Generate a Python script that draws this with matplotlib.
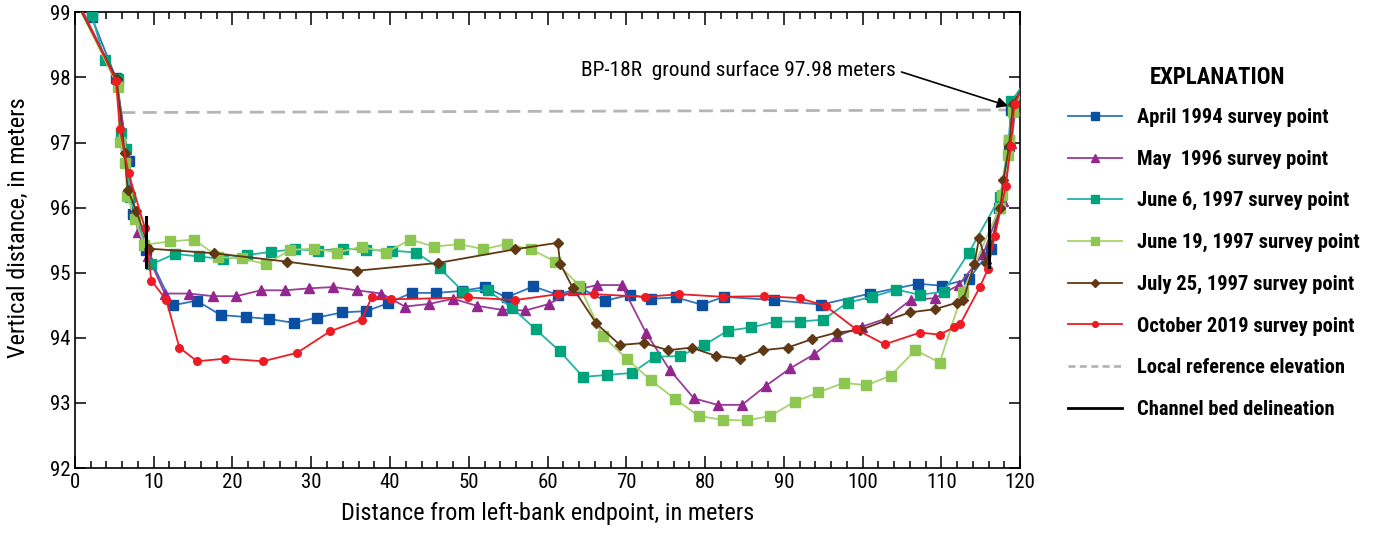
import matplotlib
matplotlib.use("Agg")
import matplotlib.pyplot as plt
from matplotlib import font_manager
from matplotlib.lines import Line2D
from matplotlib.ticker import MultipleLocator

# pick a narrow sans face if one is installed, otherwise Roboto a bit smaller
fonts = font_manager.fontManager.ttflist
names = {f.name for f in fonts}
narrow = None
for n in ('Liberation Sans Narrow', 'Roboto Condensed', 'Open Sans Condensed', 'Noto Sans Condensed'):
    if n in names:
        narrow = (n, 'normal')
        break
if narrow is None:
    for n in ('Noto Sans', 'Open Sans', 'DejaVu Sans'):
        if any(f.name == n and f.stretch in ('condensed', 'semi-condensed') for f in fonts):
            narrow = (n, 'condensed')
            break
if narrow is not None:
    plt.rcParams['font.family'] = [narrow[0], 'DejaVu Sans']
    plt.rcParams['font.stretch'] = narrow[1]
    k = 1.0
else:
    plt.rcParams['font.family'] = ['Roboto', 'DejaVu Sans']
    k = 0.86

# ---------------------------------------------------
# DATA
# ---------------------------------------------------
apr94_x = [0, 2.1, 5.2, 6.8, 7.4, 9.0, 12.4, 15.45, 18.5, 21.7, 24.6, 27.8, 30.7, 33.9, 37.0,
           39.7, 42.75, 45.9, 49.1, 52.1, 54.8, 58.2, 61.3, 64.1, 67.3, 70.5, 73.2, 76.3,
           79.6, 82.4, 88.7, 94.7, 101.0, 107.1, 110.1, 113.5, 116.3, 117.3, 118.6, 118.8, 121]
apr94_y = [99.3, 98.93, 97.99, 96.72, 95.90, 95.35, 94.50, 94.57, 94.35, 94.32, 94.29, 94.23,
           94.31, 94.39, 94.41, 94.53, 94.69, 94.69, 94.72, 94.78, 94.62, 94.79, 94.66, 94.77,
           94.57, 94.66, 94.60, 94.62, 94.51, 94.63, 94.58, 94.51, 94.68, 94.83, 94.80, 94.90,
           95.36, 95.99, 96.94, 97.50, 98.0]

may96_x = [0, 5.3, 6.6, 8.0, 9.3, 11.4, 14.5, 17.5, 20.5, 23.6, 26.7, 29.75, 32.8, 35.8, 38.9,
           41.9, 44.95, 48.0, 51.1, 54.2, 57.2, 60.2, 63.3, 66.3, 69.4, 72.5, 75.5, 78.6, 81.6,
           84.7, 87.7, 90.8, 93.9, 96.8, 99.9, 103.1, 106.1, 109.2, 112.2, 115.3, 117.8, 118.9,
           119.4, 121]
may96_y = [99.25, 97.97, 96.8, 95.62, 95.25, 94.68, 94.68, 94.64, 94.64, 94.73, 94.73, 94.76,
           94.78, 94.73, 94.68, 94.48, 94.52, 94.60, 94.49, 94.43, 94.42, 94.52, 94.73, 94.81,
           94.81, 94.08, 93.51, 93.07, 92.97, 92.97, 93.26, 93.53, 93.75, 94.03, 94.17, 94.30,
           94.58, 94.61, 94.81, 95.28, 96.1, 97.0, 97.5, 98.0]

jun6_x = [0, 2.1, 3.8, 5.4, 5.9, 6.5, 7.0, 9.7, 12.7, 15.7, 18.75, 21.8, 24.85, 27.9, 30.9, 34.0,
          37.0, 40.2, 43.3, 46.3, 49.3, 52.4, 55.5, 58.5, 61.6, 64.5, 67.6, 70.7, 73.7, 76.8,
          79.9, 82.9, 85.9, 89.0, 92.1, 95.0, 98.1, 101.2, 104.3, 107.3, 110.3, 113.5, 117.5,
          118.6, 118.9, 121]
jun6_y = [99.3, 98.96, 98.27, 97.97, 97.14, 96.90, 96.17, 95.13, 95.29, 95.25, 95.21, 95.27,
          95.32, 95.36, 95.34, 95.37, 95.35, 95.34, 95.31, 95.07, 94.71, 94.73, 94.46, 94.13,
          93.79, 93.40, 93.43, 93.46, 93.71, 93.72, 93.89, 94.11, 94.16, 94.25, 94.25, 94.28,
          94.54, 94.63, 94.74, 94.66, 94.71, 95.31, 96.17, 97.04, 97.63, 98.0]

jun19_x = [0, 5.5, 5.7, 6.4, 6.6, 7.6, 8.8, 12.1, 15.1, 18.2, 21.2, 24.25, 27.3, 30.3, 33.3,
           36.4, 39.5, 42.6, 45.6, 48.8, 51.85, 54.8, 57.9, 61.0, 64.05, 67.0, 70.05, 73.1,
           76.2, 79.2, 82.25, 85.3, 88.3, 91.4, 94.4, 97.6, 100.5, 103.6, 106.7, 109.8, 112.7,
           117.4, 117.7, 118.5, 118.6, 119.1, 121]
jun19_y = [99.2, 97.85, 97.01, 96.69, 96.18, 95.82, 95.43, 95.48, 95.51, 95.24, 95.22, 95.13,
           95.35, 95.37, 95.31, 95.40, 95.31, 95.51, 95.40, 95.44, 95.36, 95.44, 95.36, 95.17,
           94.80, 94.03, 93.68, 93.35, 93.06, 92.80, 92.74, 92.73, 92.80, 93.02, 93.16, 93.31,
           93.27, 93.42, 93.81, 93.62, 94.70, 96.0, 96.2, 96.81, 97.04, 97.47, 98.0]

jul25_x = [0, 5.3, 6.3, 6.7, 7.8, 9.4, 17.6, 26.9, 35.8, 46.1, 55.9, 61.3, 61.6, 63.2, 66.2,
           69.2, 72.2, 75.3, 78.3, 81.4, 84.4, 87.4, 90.5, 93.6, 96.7, 99.7, 103.1, 106.0,
           109.2, 112.0, 112.8, 114.2, 114.8, 115.7, 117.5, 117.9, 118.6, 119.1, 121]
jul25_y = [99.2, 97.97, 96.84, 96.27, 95.95, 95.37, 95.30, 95.17, 95.03, 95.15, 95.36, 95.46,
           95.14, 94.77, 94.22, 93.89, 93.92, 93.81, 93.85, 93.72, 93.68, 93.81, 93.85, 93.98,
           94.08, 94.12, 94.27, 94.39, 94.44, 94.54, 94.58, 95.14, 95.53, 95.15, 95.99, 96.42,
           96.94, 97.59, 98.0]

oct19_x = [0, 5.2, 5.7, 6.8, 8.9, 9.7, 11.6, 13.25, 15.5, 19.1, 23.9, 28.2, 32.4, 36.4, 37.7,
           40.1, 49.9, 55.9, 61.3, 65.9, 72.4, 76.7, 82.3, 87.5, 92.0, 95.3, 99.2, 102.8, 107.3,
           109.8, 111.6, 112.4, 114.9, 115.9, 116.8, 118.2, 118.8, 119.3, 121]
oct19_y = [99.25, 97.95, 97.20, 96.53, 95.68, 94.88, 94.58, 93.85, 93.64, 93.68, 93.64, 93.77,
           94.10, 94.28, 94.63, 94.59, 94.62, 94.58, 94.67, 94.67, 94.63, 94.67, 94.63, 94.64,
           94.61, 94.49, 94.13, 93.90, 94.08, 94.05, 94.16, 94.21, 94.78, 95.05, 95.57, 96.33,
           96.94, 97.59, 98.0]

ref_x = [5.9, 118.5]
ref_y = [97.46, 97.50]

bed_left_x = [9.0, 9.0]
bed_left_y = [95.09, 95.86]
bed_right_x = [116.1, 116.1]
bed_right_y = [95.09, 95.84]

# ---------------------------------------------------
# PLOT
# ---------------------------------------------------
fig = plt.figure(figsize=(13.76, 5.35), dpi=100)
ax = fig.add_axes([0.0545, 0.1252, 0.6868, 0.8518])

ax.plot(ref_x, ref_y, color='#b5b5b5', lw=2.0, dashes=(5, 2.7), zorder=2)

series = [
    (apr94_x, apr94_y, '#2f74c0', '#0b4fa3', 's', 7.5, 'April 1994 survey point'),
    (may96_x, may96_y, '#9b3b98', '#93278f', '^', 7.5, 'May  1996 survey point'),
    (jun6_x, jun6_y, '#22b3a3', '#00a47c', 's', 7.5, 'June 6, 1997 survey point'),
    (jun19_x, jun19_y, '#a8d26e', '#8dc650', 's', 7.5, 'June 19, 1997 survey point'),
    (jul25_x, jul25_y, '#603813', '#603813', 'D', 5.5, 'July 25, 1997 survey point'),
    (oct19_x, oct19_y, '#ed1c24', '#ed1c24', 'o', 5.5, 'October 2019 survey point'),
]
handles = []
for xs, ys, lc, mc, mk, ms, lab in series:
    ax.plot(xs, ys, color=lc, lw=1.3, marker=mk, ms=ms, mfc=mc, mec=mc, zorder=3)
    handles.append(Line2D([], [], color=lc, lw=1.3, marker=mk, ms=ms * 0.75,
                          mfc=mc, mec=mc, label=lab))

ax.plot(bed_left_x, bed_left_y, color='black', lw=2.2, zorder=5)
ax.plot(bed_right_x, bed_right_y, color='black', lw=2.2, zorder=5)

handles.append(Line2D([], [], color='#b5b5b5', lw=2.0, dashes=(2.5, 1.6),
                      label='Local reference elevation'))
handles.append(Line2D([], [], color='black', lw=2.0, label='Channel bed delineation'))

ax.annotate('BP-18R  ground surface 97.98 meters', xy=(118.5, 97.56), xytext=(64.3, 98.11),
            fontsize=15.4 * (1 if k == 1 else 0.9), ha='left', va='center',
            arrowprops=dict(arrowstyle='-|>', color='black', lw=1.2, mutation_scale=16,
                            relpos=(1, 0.5), shrinkA=2, shrinkB=0))

ax.set_xlim(0, 120)
ax.set_ylim(92, 99)
ax.xaxis.set_major_locator(MultipleLocator(10))
ax.xaxis.set_minor_locator(MultipleLocator(2))
ax.yaxis.set_major_locator(MultipleLocator(1))
ax.tick_params(axis='both', which='both', direction='in', top=True, right=True,
               width=1.1, labelsize=15 * k)
ax.tick_params(which='major', length=9)
ax.tick_params(which='minor', length=5)
ax.tick_params(axis='y', length=8)
for sp in ax.spines.values():
    sp.set_linewidth(1.2)

ax.set_xlabel('Distance from left-bank endpoint, in meters', fontsize=17.5 * k, labelpad=7)
ax.set_ylabel('Vertical distance, in meters', fontsize=17.5 * k, labelpad=7)
ax.yaxis.set_label_coords(-0.048, 0.527)

# legend ("EXPLANATION" heading placed on its own)
fig.text(0.8845, 0.856, 'EXPLANATION', ha='center', va='center',
         fontsize=16.5 * k, fontweight='bold')
fs = 14.8 * k
leg = fig.legend(handles=handles, loc='upper left', bbox_to_anchor=(0.7625, 0.8325),
                 frameon=False, fontsize=fs, handlelength=2.62, handletextpad=0.73,
                 labelspacing=1.1)
for t in leg.get_texts():
    t.set_fontweight('bold')

fig.savefig('out.png', dpi=100)
